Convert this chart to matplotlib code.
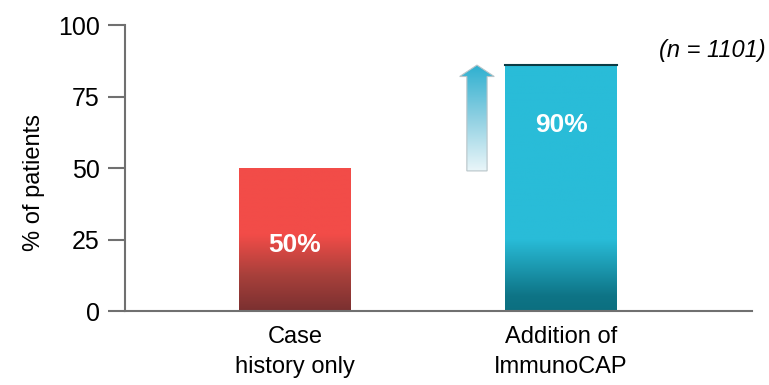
import numpy as np
import matplotlib.pyplot as plt
from matplotlib.colors import LinearSegmentedColormap
from matplotlib.patches import Polygon

categories = ["Case\nhistory only", "Addition of\nImmunoCAP"]
values = [50, 86]
value_labels = ["50%", "90%"]
arrow_from = 49
arrow_to = 86
n_text = "(n = 1101)"

fam = ['Liberation Sans Narrow', 'Liberation Sans', 'DejaVu Sans']
plt.rcParams['font.family'] = fam

fig = plt.figure(figsize=(7.69, 3.85), dpi=100)
ax = fig.add_axes([0.1625, 0.192, 0.8155, 0.743])

# gradients: light on top, dark at the bottom
red_cmap = LinearSegmentedColormap.from_list(
    "r", [(0, "#7a3030"), (0.25, "#a8403b"), (0.53, "#f24c48"), (1, "#f24c48")])
blue_cmap = LinearSegmentedColormap.from_list(
    "b", [(0, "#0c6f80"), (0.06, "#0e7486"), (0.29, "#29bcd8"), (1, "#29bcd8")])
cmaps = [red_cmap, blue_cmap]

w = 0.42
grad = np.linspace(0, 1, 256).reshape(-1, 1)
bars = ax.bar(range(len(values)), values, width=w, color="none", edgecolor="none")
for i, b in enumerate(bars):
    x0, h = b.get_x(), b.get_height()
    im = ax.imshow(grad, cmap=cmaps[i], origin="lower", aspect="auto",
                   extent=[x0, x0 + w, 0, h], zorder=2)
    im.set_clip_path(b)
    ax.text(i, h * 0.46 if i == 0 else h * 0.755, value_labels[i], color="white",
            ha="center", va="center", fontsize=19, fontweight="bold", zorder=4)

# dark top edge of the second bar
ax.plot([1 - w / 2, 1 + w / 2], [values[1], values[1]], color="#0b3b45", lw=1.5, zorder=3)

# gradient arrow
xc = 0.684
sw, hw, hh = 0.038, 0.065, 4.0
pts = [(xc - sw, arrow_from), (xc - sw, arrow_to - hh), (xc - hw, arrow_to - hh),
       (xc, arrow_to), (xc + hw, arrow_to - hh), (xc + sw, arrow_to - hh),
       (xc + sw, arrow_from)]
poly = Polygon(pts, closed=True, facecolor="none", edgecolor="#b8c4c8", lw=0.8, zorder=3)
ax.add_patch(poly)
arrow_cmap = LinearSegmentedColormap.from_list("a", ["#eaf6f9", "#8fd0e2", "#2eb0d0"])
im = ax.imshow(grad, cmap=arrow_cmap, origin="lower", aspect="auto",
               extent=[xc - hw, xc + hw, arrow_from, arrow_to], zorder=2)
im.set_clip_path(poly)

ax.set_xlim(-0.639, 1.718)
ax.set_ylim(0, 100)
ax.set_yticks([0, 25, 50, 75, 100])
ax.set_xticks(range(len(categories)))
ax.set_xticklabels(categories, fontsize=17, linespacing=1.45)
ax.tick_params(axis="x", length=0, pad=11)
ax.tick_params(axis="y", labelsize=18, length=12, width=1.5, color="#707070", pad=6)
ax.set_ylabel("% of patients", fontsize=17)
ax.yaxis.set_label_coords(-0.128, 0.45)

for s in ["top", "right"]:
    ax.spines[s].set_visible(False)
for s in ["left", "bottom"]:
    ax.spines[s].set_color("#707070")
    ax.spines[s].set_linewidth(1.5)

fig.text(0.995, 0.87, n_text, ha="right", va="center", fontsize=17, style="italic")

fig.savefig("out.png", dpi=100)
